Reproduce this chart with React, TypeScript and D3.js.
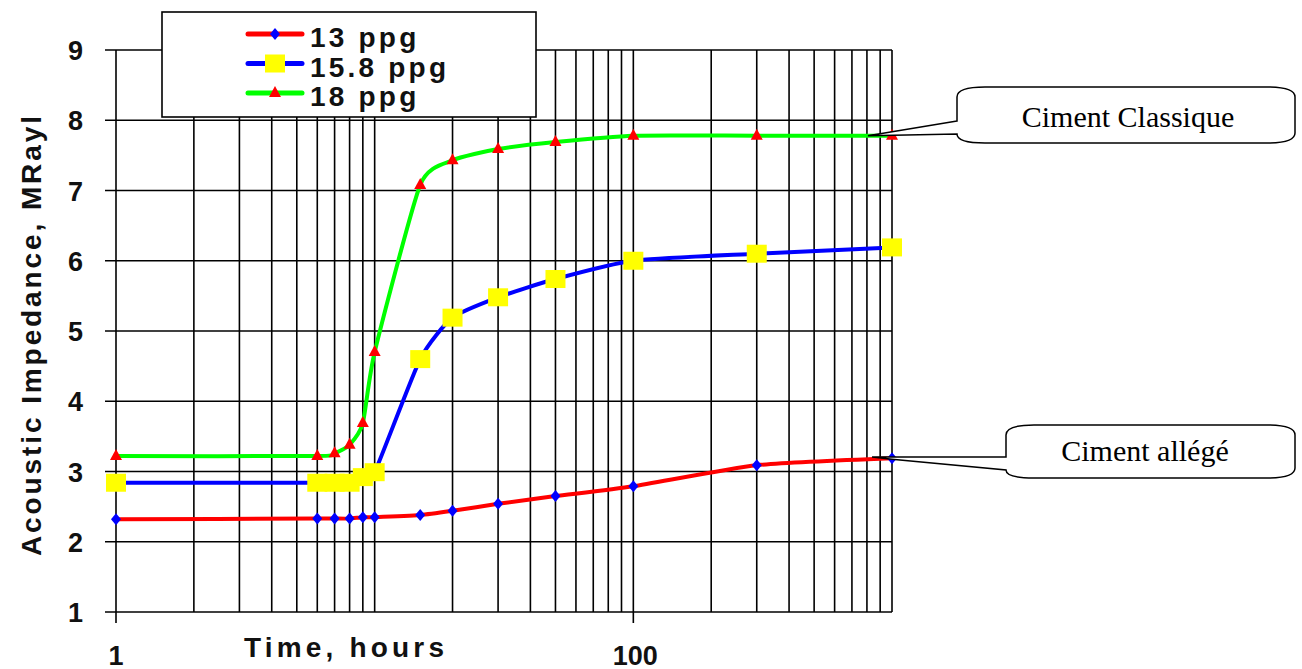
import React from "react";
import * as d3 from "d3";

const times = [1, 6, 7, 8, 9, 10, 15, 20, 30, 50, 100, 300, 1000];
const ppg13 = [2.32, 2.33, 2.33, 2.33, 2.35, 2.35, 2.38, 2.44, 2.54, 2.65, 2.79, 3.09, 3.19];
const ppg158 = [2.84, 2.84, 2.84, 2.84, 2.92, 2.99, 4.6, 5.19, 5.48, 5.74, 6.0, 6.1, 6.19];
const ppg18 = [3.22, 3.22, 3.26, 3.38, 3.69, 4.7, 7.08, 7.43, 7.59, 7.69, 7.78, 7.78, 7.78];
const seriesNames = ["13 ppg", "15.8 ppg", "18 ppg"];
const yTicks = [1, 2, 3, 4, 5, 6, 7, 8, 9];
const xTickLabels = [1, 100];
const calloutLabels = ["Ciment Classique", "Ciment allégé"];

const W = 1302;
const H = 669;

export default function App() {
  const x = d3.scaleLog().domain([1, 1000]).range([116, 892]);
  const y = d3.scaleLinear().domain([1, 9]).range([612, 50]);
  const xGrid = x.ticks().filter((t) => t > 1);

  const line = d3
    .line<[number, number]>()
    .x((d) => x(d[0]))
    .y((d) => y(d[1]))
    .curve(d3.curveCardinal.tension(0.4));

  const series = [
    { name: seriesNames[0], vals: ppg13, color: "#ff0000", marker: "diamond" },
    { name: seriesNames[1], vals: ppg158, color: "#0000ff", marker: "square" },
    { name: seriesNames[2], vals: ppg18, color: "#00ff00", marker: "triangle" },
  ];

  const marker = (kind: string, cx: number, cy: number, key: any) => {
    if (kind === "diamond")
      return (
        <polygon
          key={key}
          points={`${cx},${cy - 6} ${cx + 5},${cy} ${cx},${cy + 6} ${cx - 5},${cy}`}
          fill="#0000ff"
        />
      );
    if (kind === "square")
      return <rect key={key} x={cx - 10} y={cy - 9} width={20} height={18} fill="#ffff00" />;
    return (
      <polygon
        key={key}
        points={`${cx},${cy - 7} ${cx + 6},${cy + 4} ${cx - 6},${cy + 4}`}
        fill="#ff0000"
      />
    );
  };

  const sans = "'Liberation Sans', Arial, sans-serif";
  const serif = "'Liberation Serif', 'Times New Roman', serif";

  const gEnd: [number, number] = [x(1000) - 24, y(ppg18[ppg18.length - 1])];
  const rEnd: [number, number] = [x(1000), y(ppg13[ppg13.length - 1])];

  return (
    <svg
      width={W}
      height={H}
      style={{ position: "absolute", left: 0, top: 0, background: "#fff" }}
    >
      <rect x={0} y={0} width={W} height={H} fill="#fff" />
      {xGrid.map((t, i) => (
        <line key={"vx" + i} x1={x(t)} x2={x(t)} y1={y(9)} y2={t === 100 ? 623 : y(1)} stroke="#000" strokeWidth={1.6} />
      ))}
      <line x1={x(1)} x2={x(1)} y1={y(9)} y2={623} stroke="#000" strokeWidth={1.6} />
      {yTicks.map((t) => (
        <line key={"hy" + t} x1={105} x2={x(1000)} y1={y(t)} y2={y(t)} stroke="#000" strokeWidth={1.6} />
      ))}
      {yTicks.map((t) => (
        <text key={"yl" + t} x={83} y={y(t) + 10} textAnchor="end" fontFamily={sans} fontWeight="bold" fontSize={27} fill="#111">
          {t}
        </text>
      ))}
      {xTickLabels.map((t) => (
        <text key={"xl" + t} x={x(t) + (t === 100 ? 2 : 0)} y={665} textAnchor="middle" fontFamily={sans} fontWeight="bold" fontSize={27} fill="#111">
          {t}
        </text>
      ))}
      <text x={244} y={657} fontFamily={sans} fontWeight="bold" fontSize={28} textLength={200} lengthAdjust="spacing" fill="#111">
        Time, hours
      </text>
      <text
        transform={`translate(41,556) rotate(-90)`}
        x={0}
        y={0}
        fontFamily={sans}
        fontWeight="bold"
        fontSize={28}
        textLength={440}
        lengthAdjust="spacing"
        fill="#111"
      >
        Acoustic Impedance, MRayl
      </text>
      {series.map((s, si) => {
        const pts: [number, number][] = times.map((t, i) => [t, s.vals[i]]);
        return (
          <g key={"s" + si}>
            <path d={line(pts) || ""} fill="none" stroke={s.color} strokeWidth={4} />
            {pts.map((p, i) => marker(s.marker, x(p[0]), y(p[1]), "m" + si + "-" + i))}
          </g>
        );
      })}
      <rect x={162} y={12} width={374} height={105} fill="#fff" stroke="#000" strokeWidth={1.6} />
      {series.map((s, i) => {
        const cy = 34 + i * 29.5;
        return (
          <g key={"lg" + i}>
            <line x1={248} x2={302} y1={cy} y2={cy} stroke={s.color} strokeWidth={5} strokeLinecap="round" />
            {marker(s.marker, 275, cy, "lm" + i)}
            <text x={310} y={cy + 13} fontFamily={sans} fontWeight="bold" fontSize={28} letterSpacing={3.2} fill="#111">
              {s.name}
            </text>
          </g>
        );
      })}
      <path
        d={`M957,121 L${gEnd[0]},${gEnd[1]} L957,134 Q957,143 985,143 L1267,143 Q1295,143 1295,133 L1295,97 Q1295,87 1267,87 L985,87 Q957,87 957,97 Z`}
        fill="#fff"
        stroke="#000"
        strokeWidth={1.5}
      />
      <text x={1128} y={127} textAnchor="middle" fontFamily={serif} fontSize={30} fill="#000">
        {calloutLabels[0]}
      </text>
      <path
        d={`M1006,457 L${rEnd[0] - 20},457 L${rEnd[0]},${rEnd[1] + 1} L1006,470 Q1006,478 1034,478 L1267,478 Q1295,478 1295,468 L1295,435 Q1295,425 1267,425 L1034,425 Q1006,425 1006,435 Z`}
        fill="#fff"
        stroke="#000"
        strokeWidth={1.5}
      />
      <text x={1145} y={461} textAnchor="middle" fontFamily={serif} fontSize={30} fill="#000">
        {calloutLabels[1]}
      </text>
    </svg>
  );
}
